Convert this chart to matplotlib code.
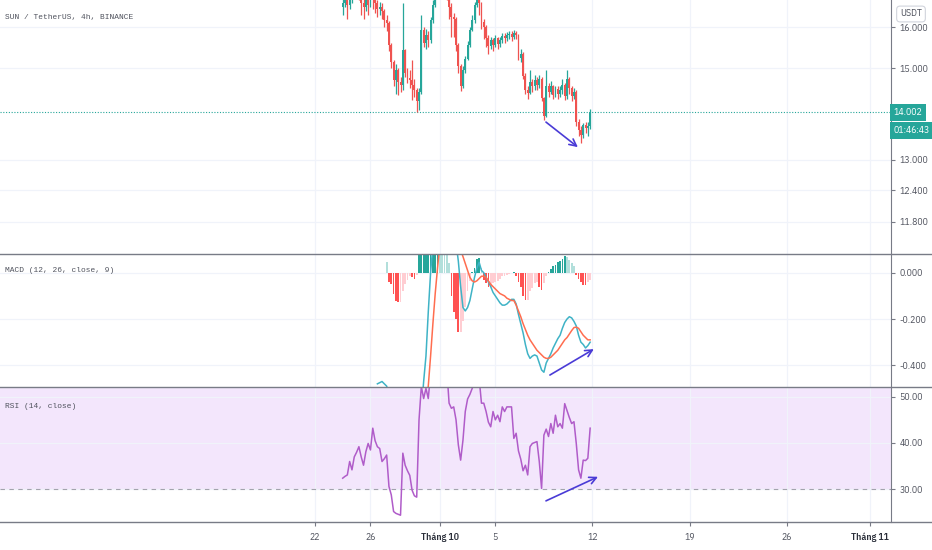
import numpy as np
import matplotlib.pyplot as plt
import matplotlib.transforms as mtransforms
from matplotlib.lines import Line2D
from matplotlib.ticker import NullLocator
from matplotlib.font_manager import FontProperties

nan = np.nan

# 4h candles, bar 0 = 24 Sep 00:00
close_ = [16.62, 16.75, 16.55, 16.68, 16.9, 17.05, 17.15, 16.95, 16.62, 16.5,
          16.7, 16.55, 16.8, 16.7, 16.6, 16.45, 16.52, 16.4, 16.18, 16.1,
          15.56, 15.15, 14.73, 14.96, 14.68, 14.62, 15.44, 14.9, 14.78, 14.73,
          14.62, 14.5, 14.25, 14.45, 15.93, 15.6, 15.8, 15.68, 16.18, 16.56,
          17.0, 17.3, 17.5, 17.35, 17.1, 16.95, 16.5, 16.25, 16.2, 15.56,
          15.05, 14.6, 14.96, 15.23, 15.56, 15.93, 16.18, 16.56, 16.85, 16.6,
          16.12, 16.0, 15.73, 15.54, 15.68, 15.56, 15.73, 15.58, 15.68, 15.78,
          15.73, 15.8, 15.83, 15.75, 15.85, 15.8, 15.25, 15.35, 14.83, 14.5,
          14.44, 14.68, 14.59, 14.73, 14.62, 14.76, 14.32, 13.92, 14.6, 14.46,
          14.59, 14.38, 14.52, 14.4, 14.5, 14.62, 14.36, 14.76, 14.54, 14.36,
          14.46, 13.8, 13.63, 13.52, 13.73, 13.66, 13.7, 14.002]
high_ = [16.8, 16.9, 16.8, 16.85, 17.0, 17.2, 17.3, 17.2, 16.9, 16.75,
         16.85, 16.8, 16.95, 16.9, 16.8, 16.7, 16.65, 16.6, 16.45, 16.3,
         16.15, 15.6, 15.2, 15.1, 15.0, 14.8, 16.6, 15.45, 15.0, 14.95,
         15.2, 14.75, 14.55, 14.55, 16.3, 16.0, 15.95, 15.9, 16.25, 16.7,
         17.2, 17.5, 17.7, 17.6, 17.4, 17.2, 17.0, 16.6, 16.35, 16.25,
         15.6, 15.1, 15.05, 15.3, 15.65, 16.0, 16.3, 16.65, 17.0, 16.9,
         16.65, 16.2, 16.05, 15.8, 15.75, 15.72, 15.8, 15.75, 15.75, 15.85,
         15.85, 15.88, 15.9, 15.9, 15.92, 15.9, 15.82, 15.45, 15.38, 14.9,
         14.6, 14.97, 14.75, 14.85, 14.8, 14.85, 14.8, 14.35, 14.95, 14.65,
         14.7, 14.62, 14.6, 14.6, 14.6, 14.75, 14.65, 14.95, 14.8, 14.6,
         14.55, 14.5, 13.85, 13.7, 13.78, 13.8, 13.8, 14.08]
low_ = [16.3, 16.5, 16.2, 16.45, 16.6, 16.85, 16.95, 16.7, 16.3, 16.2,
        16.4, 16.3, 16.5, 16.45, 16.35, 16.25, 16.3, 16.2, 16.0, 15.9,
        15.4, 15.0, 14.6, 14.4, 14.39, 14.45, 14.5, 14.8, 14.65, 14.55,
        14.28, 14.35, 14.01, 14.05, 14.4, 15.5, 15.45, 15.5, 15.6, 16.1,
        16.5, 16.9, 17.2, 17.1, 16.9, 16.7, 16.2, 15.75, 15.75, 15.4,
        14.9, 14.47, 14.55, 14.9, 15.2, 15.5, 15.9, 16.1, 16.5, 16.3,
        15.95, 15.7, 15.5, 15.35, 15.45, 15.4, 15.5, 15.45, 15.5, 15.6,
        15.6, 15.65, 15.7, 15.65, 15.7, 15.7, 15.2, 15.15, 14.75, 14.4,
        14.3, 14.4, 14.45, 14.5, 14.5, 14.55, 14.25, 13.84, 13.9, 14.35,
        14.4, 14.3, 14.35, 14.3, 14.35, 14.4, 14.28, 14.3, 14.4, 14.25,
        14.3, 13.7, 13.5, 13.34, 13.45, 13.55, 13.5, 13.65]
first_open = 16.5
last_price = 14.002

macd_line = [nan] * 15 + [
    -0.48, -0.475, -0.47, -0.48, -0.49,
    -0.52, -0.56, -0.6, -0.63, -0.65, -0.66, -0.64, -0.65, -0.66, -0.67,
    -0.68, -0.69, -0.7, -0.68, -0.6, -0.47, -0.36, -0.17, 0.0, 0.12,
    0.22, 0.3, 0.36, 0.4, 0.41, 0.38, 0.32, 0.24, 0.18, 0.13,
    0.05, -0.06, -0.15, -0.165, -0.15, -0.12, -0.07, -0.02, 0.02, 0.045,
    0.01, 0.0, -0.02, -0.04, -0.06, -0.085, -0.1, -0.115, -0.13, -0.14,
    -0.14, -0.135, -0.125, -0.115, -0.115, -0.135, -0.18, -0.22, -0.26, -0.31,
    -0.35, -0.37, -0.36, -0.355, -0.36, -0.39, -0.42, -0.43, -0.39, -0.37,
    -0.35, -0.325, -0.305, -0.285, -0.27, -0.24, -0.215, -0.2, -0.19, -0.195,
    -0.21, -0.23, -0.27, -0.3, -0.31, -0.325, -0.315, -0.3]
signal_line = [nan] * 36 + [
    -0.62, -0.49, -0.36, -0.22,
    -0.09, 0.02, 0.12, 0.2, 0.25, 0.28, 0.29, 0.27, 0.22, 0.17,
    0.13, 0.1, 0.07, 0.04, 0.01, -0.02, -0.035, -0.04, -0.035, -0.025,
    -0.015, -0.015, -0.02, -0.035, -0.05, -0.06, -0.07, -0.08, -0.09, -0.095,
    -0.1, -0.11, -0.115, -0.12, -0.12, -0.14, -0.165, -0.19, -0.22, -0.245,
    -0.27, -0.29, -0.305, -0.32, -0.335, -0.345, -0.355, -0.365, -0.37, -0.37,
    -0.365, -0.355, -0.345, -0.335, -0.32, -0.305, -0.29, -0.28, -0.265, -0.25,
    -0.237, -0.235, -0.24, -0.255, -0.27, -0.28, -0.29, -0.29]
macd_hist = [nan] * 19 + [
    0.045,
    -0.04, -0.05, -0.09, -0.12, -0.125, -0.125, -0.08, -0.05, -0.03, -0.015,
    -0.02, -0.025, -0.01, 0.1, 0.15, 0.2, 0.25, 0.3, 0.35, 0.4,
    0.45, 0.5, 0.4, 0.3, 0.2, 0.1, 0.04, -0.1, -0.17, -0.2,
    -0.255, -0.255, -0.21, -0.15, -0.08, -0.035, 0.005, 0.02, 0.06, 0.065,
    0.02, -0.03, -0.045, -0.06, -0.06, -0.045, -0.04, -0.035, -0.025, -0.015,
    -0.012, -0.01, -0.006, -0.003, 0.003, -0.015, -0.04, -0.06, -0.1, -0.118,
    -0.118, -0.08, -0.065, -0.045, -0.04, -0.06, -0.075, -0.045, -0.015, 0.005,
    0.015, 0.03, 0.035, 0.048, 0.05, 0.06, 0.072, 0.068, 0.055, 0.04,
    0.03, -0.01, -0.025, -0.04, -0.053, -0.055, -0.04, -0.03]
rsi = [32.4, 32.8, 33.1, 36.0, 34.2, 37.0, 38.0, 39.2, 37.0, 35.2,
       38.1, 39.9, 38.5, 43.2, 40.5, 39.2, 38.8, 36.0, 36.6, 37.4,
       30.6, 28.8, 25.2, 24.8, 24.6, 24.4, 37.8, 35.2, 34.0, 33.0,
       29.8, 28.6, 28.3, 45.0, 52.2, 49.6, 51.8, 49.6, 55.0, 58.0,
       62.0, 64.0, 66.0, 64.0, 60.0, 56.0, 48.6, 47.5, 47.8, 45.0,
       39.6, 36.3, 40.6, 46.8, 49.5, 50.5, 51.8, 53.0, 56.0, 54.0,
       48.6, 48.6, 46.8, 44.5, 43.5, 46.8, 45.0, 46.0, 44.6, 47.8,
       46.8, 47.8, 47.8, 47.8, 41.0, 42.1, 38.3, 36.5, 34.0, 35.2,
       33.1, 39.2, 39.9, 40.1, 40.3, 36.0, 30.2, 41.7, 43.0, 41.4,
       44.2, 42.1, 46.0, 43.5, 44.2, 43.2, 48.5, 47.0, 45.5, 44.2,
       44.6, 39.9, 34.2, 32.4, 36.3, 36.2, 36.7, 43.2]

# date ticks in bar units (6 bars per day)
x_ticks = [-12, 12, 42, 66, 108, 150, 192, 228]
x_labels = ['22', '26', 'Tháng 10', '5', '12', '19', '26', 'Tháng 11']
price_ticks = [11.8, 12.4, 13.0, 15.0, 16.0]
macd_ticks = [0.0, -0.2, -0.4]
rsi_ticks = [30, 40, 50]

# divergence arrows drawn on the chart (bar, value)
arrow_price = [(87.9, 13.79), (101.7, 13.26)]
arrow_macd = [(89.6, -0.442), (108.6, -0.33)]
arrow_rsi = [(87.9, 27.5), (110.4, 32.7)]

UP, DOWN = '#26a69a', '#ef5350'
AXC = '#787b86'
TXT = '#50535e'
GRID = '#f0f3fa'
ARROW = '#4a3bd6'
cond = ['IBM Plex Sans Condensed', 'DejaVu Sans']
tick_fp = FontProperties(family=cond, weight='normal', size=7)
bold_fp = FontProperties(family=cond, weight='semibold', size=7)
head_font = ['Liberation Mono', 'DejaVu Sans Mono']

W, H = 932, 550
fig = plt.figure(figsize=(W / 100, H / 100), dpi=100)


def panel(top, bottom):
    return fig.add_axes([0, 1 - bottom / H, 891 / W, (bottom - top) / H])


ax_p = panel(0, 254)
ax_m = panel(254, 387.3)
ax_r = panel(387.3, 521.7)

for ax in (ax_p, ax_m, ax_r):
    ax.set_xlim(-148.2, 237.1)
    for s in ('left', 'top', 'bottom'):
        ax.spines[s].set_visible(False)
    ax.spines['right'].set_color(AXC)
    ax.yaxis.tick_right()
    ax.tick_params(axis='y', length=3, color=AXC, labelcolor=TXT, pad=3)
    ax.set_xticks(x_ticks)
    ax.tick_params(axis='x', length=0, labelbottom=False)
    ax.grid(True, color=GRID, lw=0.9)
    ax.set_axisbelow(True)

# candles
idx = np.arange(len(close_))
c = np.array(close_)
o = np.array([first_open] + close_[:-1])
cols = np.where(c >= o, UP, DOWN)
ax_p.vlines(idx, low_, high_, colors=cols, lw=0.9, zorder=2)
ax_p.bar(idx, np.abs(c - o), bottom=np.minimum(o, c), width=0.8, color=cols,
         linewidth=0, zorder=3)
ax_p.set_yscale('log')
ax_p.set_ylim(11.22, 16.69)
ax_p.yaxis.set_minor_locator(NullLocator())
ax_p.set_yticks(price_ticks)
ax_p.set_yticklabels(['%.3f' % v for v in price_ticks])
ax_p.axhline(last_price, color=UP, ls=(0, (1, 1.5)), lw=0.8, zorder=1)

# MACD
h = np.array(macd_hist)
prev = np.concatenate([[nan], h[:-1]])
hcols = []
for v, p in zip(h, prev):
    if v >= 0:
        hcols.append('#26a69a' if (not np.isnan(p) and v > p) else '#b2dfdb')
    else:
        hcols.append('#ff5252' if (np.isnan(p) or v < p) else '#ffcdd2')
ax_m.bar(idx, np.nan_to_num(h), width=0.75, color=hcols, linewidth=0, zorder=2)
ax_m.plot(idx, macd_line, color='#3fb3c6', lw=1.1, zorder=3)
ax_m.plot(idx, signal_line, color='#ff6d4f', lw=1.1, zorder=3)
ax_m.set_ylim(-0.495, 0.081)
ax_m.set_yticks(macd_ticks)
ax_m.set_yticklabels(['%.3f' % v for v in macd_ticks])

# RSI
ax_r.axhspan(30, 70, facecolor='#f3e6fc', edgecolor='none', zorder=0)
ax_r.axhline(30, color='#a3a3ad', ls=(0, (4, 4)), lw=0.8, zorder=1)
ax_r.plot(idx, rsi, color='#b05cc9', lw=1.1, zorder=3)
ax_r.set_ylim(23.0, 52.03)
ax_r.set_yticks(rsi_ticks)
ax_r.set_yticklabels(['%.2f' % v for v in rsi_ticks])
ax_r.tick_params(axis='x', length=3, color=AXC, labelbottom=True, pad=5,
                 labelcolor=TXT)
ax_r.set_xticklabels(x_labels)
for lab in ax_r.get_xticklabels():
    if lab.get_text().startswith('Tháng'):
        lab.set_fontproperties(bold_fp)
        lab.set_color('#2a2e39')
    else:
        lab.set_fontproperties(tick_fp)

for ax in (ax_p, ax_m, ax_r):
    for lab in ax.get_yticklabels():
        lab.set_fontproperties(tick_fp)

# divergence arrows
for ax, (a, b) in ((ax_p, arrow_price), (ax_m, arrow_macd), (ax_r, arrow_rsi)):
    ax.annotate('', xy=b, xytext=a, zorder=5, annotation_clip=False,
                arrowprops=dict(arrowstyle='->,head_length=0.5,head_width=0.25',
                                color=ARROW, lw=1.2, shrinkA=0, shrinkB=0))

# panel separators
for yy in (254, 387.3, 521.7):
    fig.add_artist(Line2D([0, 1], [1 - yy / H] * 2, color=AXC, lw=1))

# price / countdown labels
tr = mtransforms.blended_transform_factory(ax_p.transAxes, ax_p.transData)
ax_p.text(1.003, last_price, '14.002', transform=tr, ha='left', va='center',
          color='white', fontproperties=tick_fp, clip_on=False,
          bbox=dict(boxstyle='square,pad=0.4', fc=UP, ec='none'))
ax_p.annotate('01:46:43', xy=(1.003, last_price), xycoords=tr, xytext=(0, -13),
              textcoords='offset points', ha='left', va='center', color='white',
              fontproperties=tick_fp, annotation_clip=False,
              bbox=dict(boxstyle='square,pad=0.4', fc=UP, ec='none'))
fig.text(911 / W, 1 - 14 / H, 'USDT', ha='center', va='center', color=TXT,
         fontproperties=tick_fp,
         bbox=dict(boxstyle='round,pad=0.35', fc='white', ec='#d1d4dc', lw=0.8))

# pane titles
fig.text(5 / W, 1 - 17 / H, 'SUN / TetherUS, 4h, BINANCE', va='center',
         fontsize=5.7, color=TXT, family=head_font)
fig.text(5 / W, 1 - 271 / H, 'MACD (12, 26, close, 9)', va='center',
         fontsize=5.7, color=TXT, family=head_font)
fig.text(5 / W, 1 - 406 / H, 'RSI (14, close)', va='center',
         fontsize=5.7, color=TXT, family=head_font)

fig.savefig('out.png', dpi=100, facecolor='white')
